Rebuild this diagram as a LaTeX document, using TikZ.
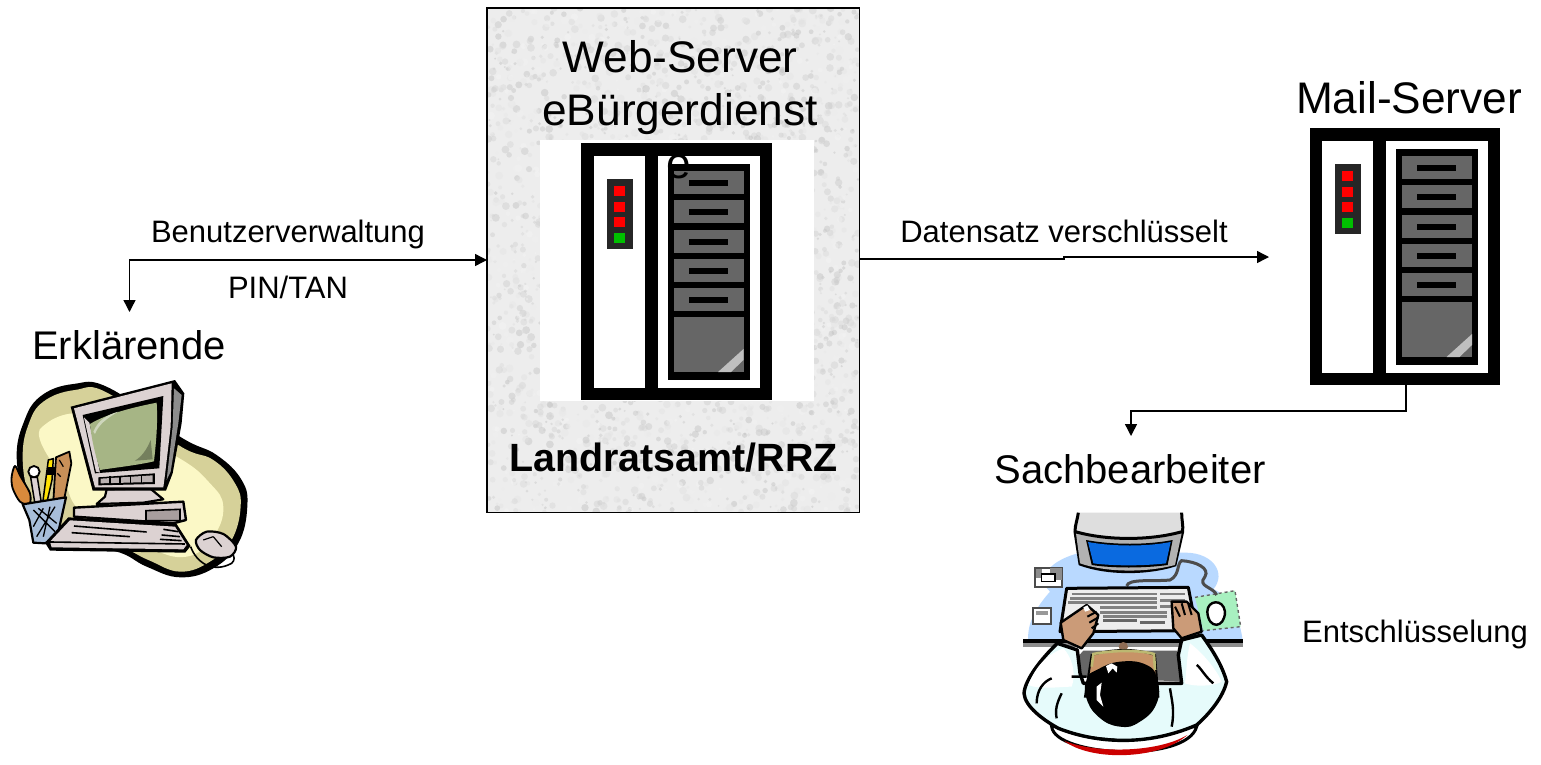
\documentclass[tikz,border=0pt]{standalone}
\usepackage{fontspec}
\setmainfont{Liberation Sans}
\usetikzlibrary{arrows.meta}
\definecolor{blobdark}{HTML}{D6D199}
\definecolor{bloblight}{HTML}{FBF8C6}
\definecolor{shellgray}{HTML}{DCD2D2}
\definecolor{shelldark}{HTML}{A89E9E}
\definecolor{crtgreen}{HTML}{A6B585}
\definecolor{deskblue}{HTML}{B9D9FF}
\definecolor{crtblue}{HTML}{0A6AE0}
\definecolor{skin}{HTML}{CB9B78}
\definecolor{shirt}{HTML}{E6FBFB}
\definecolor{padgreen}{HTML}{A8F0C0}
\definecolor{drawergray}{HTML}{666666}
\definecolor{wood}{HTML}{C89058}
\definecolor{tool}{HTML}{D98A3C}
\tikzset{
  x=1pt,y=-1pt,
  conn/.style={draw=black,line width=1.4pt,-{Triangle[length=12pt,width=12pt]}},
  connb/.style={draw=black,line width=1.4pt,{Triangle[length=12pt,width=12pt]}-{Triangle[length=12pt,width=12pt]}},
  bigtxt/.style={font=\fontsize{44.2}{44.2}\selectfont,anchor=base,inner sep=0pt},
  sidetxt/.style={font=\fontsize{40}{40}\selectfont,anchor=base,inner sep=0pt},
  smalltxt/.style={font=\fontsize{31}{31}\selectfont,anchor=base,inner sep=0pt},
  boldtxt/.style={font=\fontsize{39.4}{39.4}\selectfont\bfseries,anchor=base,inner sep=0pt},
  ink/.style={draw=black,line width=2pt,line join=round},
  server/.pic={
    \fill[black] (0,0) rectangle (190.5,257);
    \fill[white] (12.5,13) rectangle (63.5,245);
    \fill[white] (76.5,13) rectangle (178.5,245);
    \fill[black] (86.5,21) rectangle (168.5,237);
    \foreach \a/\b in {28/51,57/80,87/110,116/139,145/168}{
      \fill[drawergray] (92.5,\a) rectangle (162.5,\b);
      \fill[black] (107.5,\a+9) rectangle (146.5,\a+15);
    }
    \fill[drawergray] (92.5,174) rectangle (162.5,229);
    \fill[black!25] (137,229) -- (162.5,206) -- (162.5,217) -- (150,229) -- cycle;
    \fill[black!85] (25.5,36) rectangle (51.5,106);
    \foreach \a in {43,58.5,74}{\fill[red] (32.5,\a) rectangle (43.5,\a+10);}
    \fill[green!75!black] (32.5,90) rectangle (43.5,100);
  }
}
\begin{document}
\begin{tikzpicture}
\useasboundingbox (0,0) rectangle (1541,764);
\fill[white] (0,0) rectangle (1541,764);

% speckled box
\node[draw=none,fill=none,inner sep=0pt,minimum width=372pt,minimum height=504pt,anchor=north west] (web) at (487,8) {};
\begin{scope}
  \clip (487,8) rectangle (859,512);
  \fill[black!7] (487,8) rectangle (859,512);
  \pgfmathsetseed{4711}
  \foreach \i in {1,...,3000}{
    \pgfmathsetmacro{\px}{487+372*rnd}
    \pgfmathsetmacro{\py}{8+504*rnd}
    \pgfmathsetmacro{\rr}{1+3*rnd}
    \pgfmathsetmacro{\sh}{int(4+22*rnd)}
    \fill[black!\sh,opacity=0.45] (\px,\py) circle[radius=\rr];
  }
\end{scope}
\draw[black,line width=1.4pt] (web.north west) rectangle (web.south east);

\fill[white] (540,140) rectangle (814,401);
\pic at (581,143) {server};
\pic at (1309.5,128) {server};
\node[draw=none,inner sep=0pt,minimum width=190.5pt,minimum height=257pt,anchor=north west] (mail) at (1309.5,128) {};

% texts
\node[bigtxt] (t1) at (680,72) {Web-Server};
\node[bigtxt] (t2) at (680,125) {eBürgerdienst};
\node[bigtxt] (t3) at (679,178) {e};
\node[boldtxt] (t4) at (673.5,471) {Landratsamt/RRZ};
\node[bigtxt] (t5) at (1409,113) {Mail-Server};
\node[sidetxt] (t6) at (129,359) {Erklärende};
\node[sidetxt] (t7) at (1130,483) {Sachbearbeiter};
\node[smalltxt] (l1) at (288,242) {Benutzerverwaltung};
\node[smalltxt] (l2) at (288,298) {PIN/TAN};
\node[smalltxt] (l3) at (1064,242) {Datensatz verschlüsselt};
\node[smalltxt] (l4) at (1415,642) {Entschlüsselung};

% connectors
\coordinate (c1) at (129.5,312);
\coordinate (c2) at (1269,257);
\coordinate (c3) at (1131,436);
\coordinate (w1) at (web.west |- 0,260);
\coordinate (w2) at (web.east |- 0,259);
\coordinate (m1) at (mail.south -| 1406,0);
\draw[connb] (c1) -- (129.5,260) -- (w1);
\draw[conn] (w2) -- (1064,259) -- (1064,257) -- (c2);
\draw[conn] (m1) -- (1406,411) -- (1131,411) -- (c3);

% ---- computer clip art (coordinates of a 3x crop)
\begin{scope}[shift={(0,360)},x=0.3333pt,y=-0.3333pt]
  \fill[black] plot[smooth cycle,tension=0.7] coordinates {(50,290)(70,190)(120,110)(220,72)(330,85)(540,230)(650,285)(725,360)(742,440)(715,550)(640,625)(540,652)(440,620)(350,575)(200,555)(120,490)(72,400)};
  \fill[blobdark] plot[smooth cycle,tension=0.7] coordinates {(68,290)(85,195)(130,125)(225,90)(325,100)(535,255)(640,300)(705,370)(722,440)(695,540)(630,605)(540,635)(445,600)(350,558)(200,540)(130,480)(85,400)};
  \fill[bloblight] plot[smooth cycle,tension=0.7] coordinates {(120,240)(140,190)(220,160)(300,180)(530,290)(630,370)(670,440)(640,530)(560,590)(440,560)(250,460)(190,360)};
  % tools
  \fill[tool,draw=black,line width=1.8pt,line join=round] plot[smooth cycle] coordinates {(45,318)(62,350)(90,400)(88,432)(60,425)(38,385)(35,350)};
  \draw[black,line width=1.8pt,fill=white] (102,335) circle[radius=17];
  \fill[shellgray,draw=black,line width=1.5pt] (92,352) -- (112,352) -- (124,428) -- (105,432) -- cycle;
  \fill[wood,draw=black,line width=1.8pt,line join=round] (168,292) -- (208,275) -- (214,310) -- (190,430) -- (160,425) -- cycle;
  \draw[black,line width=1.2pt] (178,300) -- (190,320) (172,340) -- (182,350);
  \fill[yellow!85!orange,draw=black,line width=1.5pt] (145,300) -- (160,296) -- (156,360) -- (140,430) -- (128,430) -- cycle;
  \fill[black] (140,322) rectangle (165,345);
  % mug
  \fill[deskblue!70!gray,draw=black,line width=2.2pt,line join=round] (68,433) -- (198,412) -- (172,530) -- (135,550) -- (100,548) -- (88,480) -- cycle;
  \draw[black,line width=1.3pt] (100,450) -- (165,515) (115,445) -- (170,490) (165,440) -- (110,530) (130,445) -- (100,500) (150,440) -- (130,530);
  % base
  \fill[shellgray,draw=black,line width=2.4pt,line join=round] (222,443) -- (550,425) -- (558,480) -- (520,490) -- (222,470) -- cycle;
  \fill[shelldark,draw=black,line width=1.6pt] (438,452) -- (540,448) -- (540,482) -- (438,482) -- cycle;
  % stand
  \fill[shellgray,draw=black,line width=2.2pt,line join=round] (320,388) -- (450,385) -- (490,418) -- (430,428) -- (290,432) -- (315,410) -- cycle;
  % monitor
  \fill[black] (212,140) -- (525,60) -- (553,100) -- (545,190) -- (518,340) -- (498,392) -- (278,392) -- cycle;
  \fill[shellgray] (222,145) -- (515,70) -- (512,200) -- (495,345) -- (490,382) -- (285,382) -- cycle;
  \fill[black!45] (522,85) -- (545,105) -- (535,190) -- (512,335) -- (500,360) -- (518,200) -- cycle;
  \fill[black] (248,165) -- (490,108) -- (478,325) -- (285,340) -- cycle;
  \fill[shellgray] (252,172) -- (268,188) -- (300,338) -- (288,335) -- cycle;
  \fill[crtgreen] (270,192) .. controls (325,158) and (420,138) .. (470,128) .. controls (474,190) and (468,250) .. (462,304) .. controls (410,316) and (350,322) .. (300,330) .. controls (286,285) and (275,240) .. (270,192) -- cycle;
  \fill[crtgreen!55!white] (280,215) .. controls (295,180) and (320,165) .. (355,155) .. controls (320,175) and (295,195) .. (285,222) -- cycle;
  \fill[crtgreen!70!black] (405,302) .. controls (425,290) and (440,270) .. (452,240) -- (458,298) -- cycle;
  \fill[black] (295,352) -- (465,340) -- (465,372) -- (295,376) -- cycle;
  \fill[shellgray!85!black] (302,356) -- (458,346) -- (458,366) -- (302,370) -- cycle;
  \foreach \a in {330,360,392,425}{\draw[black,line width=1.2pt] (\a,348) -- (\a,372);}
  % keyboard
  \fill[black] (135,548) -- (205,472) -- (530,492) -- (572,558) -- (556,578) -- (150,572) -- cycle;
  \fill[shellgray] (150,545) -- (210,481) -- (525,500) -- (560,555) -- (550,568) -- (155,562) -- cycle;
  \draw[black,line width=1.6pt] (150,546) -- (555,552);
  \foreach \a/\b/\c/\d in {222/498/440/516,215/518/390/530,490/508/535/515,485/525/540/530,480/538/545/542}{\draw[black,line width=1.6pt] (\a,\b) -- (\c,\d);}
  % mouse and cable
  \draw[black,line width=1.6pt] (572,560) .. controls (590,610) and (640,640) .. (695,610) .. controls (705,600) and (705,590) .. (695,580);
  \fill[shellgray,draw=black,line width=2.2pt] plot[smooth cycle] coordinates {(588,540)(620,515)(670,522)(708,560)(690,590)(640,592)(600,570)};
  \draw[black,line width=1.2pt] (610,540) -- (640,530) (640,530) -- (665,560);
\end{scope}

% ---- clerk clip art (coordinates of a 3x crop)
\begin{scope}[shift={(1000,500)},x=0.3333pt,y=-0.3333pt]
  % desk
  \fill[deskblue] (85,422) .. controls (80,370) and (110,320) .. (150,275) .. controls (120,250) and (120,190) .. (240,158) -- (560,158) .. controls (640,160) and (680,220) .. (640,268) .. controls (680,280) and (720,350) .. (728,422) -- cycle;
  % floppies
  \fill[white,draw=black!70,line width=2pt] (105,205) rectangle (185,262);
  \fill[black!45] (108,208) rectangle (125,235);
  \fill[black!45] (150,205) rectangle (185,240);
  \fill[white] (125,220) rectangle (165,245);
  \draw[black,line width=1.2pt] (125,222) rectangle (165,245);
  \fill[white,draw=black!70,line width=2pt] (100,325) rectangle (153,372);
  \fill[black!40] (108,332) rectangle (145,345);
  % mouse pad
  \fill[padgreen] (585,292) -- (705,272) -- (722,380) -- (610,392) -- cycle;
  \draw[black!60,line width=1.4pt,dashed] (585,292) -- (705,272) -- (722,380) -- (610,392);
  % cable
  \draw[black!70,line width=3pt] (380,258) .. controls (385,235) and (460,245) .. (510,240) .. controls (540,225) and (530,190) .. (545,182) .. controls (590,185) and (630,205) .. (615,230) .. controls (590,260) and (640,260) .. (650,285);
  % monitor
  \fill[black!13] (235,38) .. controls (232,60) and (225,75) .. (225,95) -- (240,192) .. controls (320,222) and (440,222) .. (525,195) -- (548,95) .. controls (550,75) and (545,60) .. (545,38) -- cycle;
  \draw[black,line width=3pt] (235,38) .. controls (232,60) and (225,75) .. (225,95) -- (240,192) .. controls (320,222) and (440,222) .. (525,195) -- (548,95) .. controls (550,75) and (545,60) .. (545,38);
  \fill[black!30] (228,100) .. controls (320,125) and (450,125) .. (545,100) -- (525,195) .. controls (440,218) and (320,218) .. (240,190) -- cycle;
  \draw[black,line width=3pt] (226,95) .. controls (320,122) and (450,122) .. (546,95);
  \fill[black] (258,120) .. controls (340,135) and (440,135) .. (518,120) -- (503,195) .. controls (430,205) and (340,205) .. (275,195) -- cycle;
  \fill[crtblue] (264,126) .. controls (340,140) and (440,140) .. (512,126) -- (498,190) .. controls (430,198) and (340,198) .. (280,190) -- cycle;
  % keyboard
  \fill[white!93!black,draw=black,line width=3pt,line join=round] (200,265) -- (565,262) -- (590,392) -- (180,395) -- cycle;
  \foreach \a/\b/\c in {282/215/470,295/210/470,308/205/470,322/300/470,337/300/500,350/310/500}{\draw[black!50,line width=2.6pt] (\b,\a) -- (\c,\a);}
  \foreach \a in {282,302,320}{\draw[black!50,line width=2.6pt] (480,\a) -- (555,\a);}
  \draw[black!60,line width=2.6pt] (310,362) -- (410,362) (420,368) -- (495,368);
  % mouse
  \fill[white,draw=black,line width=2.4pt] (622,335) .. controls (622,300) and (670,295) .. (675,335) .. controls (675,385) and (625,390) .. (622,335) -- cycle;
  % desk edge
  \fill[black] (68,418) rectangle (730,428);
  \fill[black!45] (68,428) rectangle (730,440);
  % shadow between arms
  \fill[black!60] (225,480) -- (250,452) -- (530,452) -- (555,500) -- (550,545) -- (230,530) -- cycle;
  % chair
  \fill[white,draw=black,line width=3pt] (155,680) .. controls (165,770) and (560,790) .. (590,680) -- cycle;
  \fill[red!80!black] (192,722) .. controls (280,760) and (470,760) .. (562,705) .. controls (480,780) and (270,785) .. (192,722) -- cycle;
  % body
  \fill[shirt,draw=black,line width=3.4pt,line join=round] (172,430) .. controls (120,480) and (75,540) .. (72,580) .. controls (75,620) and (130,660) .. (175,685) .. controls (290,730) and (440,740) .. (590,675) .. controls (630,640) and (670,590) .. (680,545) .. controls (665,490) and (630,440) .. (605,405) -- (545,420) -- (535,465) -- (545,550) -- (250,550) -- (240,520) -- (232,450) -- cycle;
  \fill[white] (85,555) .. controls (110,490) and (150,460) .. (190,445) .. controls (215,470) and (230,520) .. (215,560) .. controls (180,560) and (120,570) .. (85,555) -- cycle;
  \fill[white] (570,430) .. controls (610,460) and (650,510) .. (665,545) .. controls (640,560) and (580,560) .. (555,550) .. controls (560,510) and (560,470) .. (570,430) -- cycle;
  \draw[black,line width=2.4pt] (215,530) -- (260,530) (185,580) .. controls (170,610) and (165,630) .. (170,655) (110,610) .. controls (110,570) and (130,545) .. (155,535) (640,550) .. controls (615,530) and (600,500) .. (590,495) (515,680) .. controls (525,630) and (515,600) .. (510,565) (190,690) .. controls (250,715) and (300,715) .. (350,720);
  % hands
  \fill[skin,draw=black,line width=2.4pt,line join=round] (182,368) -- (260,315) -- (295,345) -- (280,400) -- (245,445) -- (190,420) -- cycle;
  \fill[skin,draw=black,line width=2.4pt,line join=round] (515,305) -- (560,305) -- (595,340) -- (605,395) -- (545,415) -- (520,385) -- cycle;
  \fill[white] (250,322) -- (262,316) -- (270,330) -- (255,335) -- cycle;
  \draw[black,line width=2pt] (262,350) -- (290,335) (268,368) -- (295,352) (275,385) -- (295,370) (525,320) -- (540,350) (545,310) -- (555,345) (565,312) -- (575,345);
  % head
  \fill[skin!70!black] (370,440) circle[radius=14];
  \fill[skin!70!brown,draw=black,line width=2pt] (275,465) .. controls (340,445) and (410,445) .. (465,465) -- (475,590) -- (255,590) -- cycle;
  \draw[yellow!40!gray,line width=2.6pt] (275,500) -- (280,462) .. controls (340,450) and (420,450) .. (462,462) -- (465,510);
  \fill[black] plot[smooth cycle,tension=0.8] coordinates {(290,510)(360,485)(440,495)(472,540)(470,610)(420,665)(360,680)(295,650)(258,590)(262,535)};
  \fill[white] (318,498) -- (335,490) -- (352,500) -- (350,518) -- (338,505) -- (325,520) -- cycle;
  \fill[white] (290,560) -- (305,548) -- (300,585) -- (310,620) -- (290,600) -- cycle;
\end{scope}
\end{tikzpicture}
\end{document}
